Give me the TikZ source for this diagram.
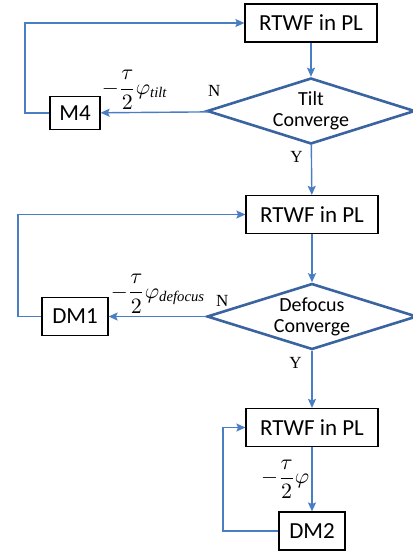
\documentclass[tikz,border=0pt]{standalone}
\usepackage{amsmath}
\usepackage{fontspec}
\setmainfont{Carlito}
\newfontfamily\yesno{Liberation Serif}
\usetikzlibrary{shapes.geometric, arrows.meta, positioning}

\definecolor{linkblue}{RGB}{74,126,196}
\definecolor{decblue}{RGB}{58,100,160}

\newcommand{\subtxt}[1]{\textit{\yesno #1}}

\tikzset{
    block/.style = {
        rectangle, 
        minimum width=66pt, 
        minimum height=19pt, 
        inner sep=0pt,
        align=center, 
        draw=black, 
        line width=0.6pt,
        fill=white,
        font=\fontsize{11.5}{13}\selectfont
    },
    smallblock/.style = {
        block,
        minimum width=33pt
    },
    decision/.style = {
        diamond, 
        aspect=3.15,
        minimum width=104pt, 
        minimum height=33pt, 
        inner sep=0pt,
        align=center, 
        draw=decblue, 
        line width=1.3pt,
        font=\fontsize{10}{10.5}\selectfont
    },
    answer/.style = {
        font=\yesno\fontsize{8.5}{10}\selectfont,
        inner sep=1pt
    },
    gain/.style = {
        font=\fontsize{10.5}{12}\selectfont,
        inner sep=0pt
    },
    arrow/.style = {
        line width=0.7pt, 
        draw=linkblue,
        -{Stealth[length=4.5pt, width=4pt, inset=0.8pt, color=linkblue]}
    }
}

\begin{document}
\begin{tikzpicture}[x=0.5pt, y=-0.5pt]

\useasboundingbox (0,0) rectangle (413,554);

% first loop: tilt
\node (rtwf1) [block] at (311,23) {RTWF in PL};
\node (tilt) [decision] at (311,111) {Tilt\\Converge};
\node (m4) [smallblock, minimum width=25pt, minimum height=16.5pt] at (75,113) {M4};

% second loop: defocus
\node (rtwf2) [block] at (312,214.5) {RTWF in PL};
\node (defocus) [decision, minimum width=105pt] at (312,316.5) {Defocus\\Converge};
\node (dm1) [smallblock] at (75,316.5) {DM1};

% third loop
\node (rtwf3) [block] at (312,427.5) {RTWF in PL};
\node (dm2) [smallblock] at (312,531) {DM2};

% corner points of the feedback lines
\coordinate (c1) at (25,23);
\coordinate (c2) at (18,214.5);
\coordinate (c3) at (223,427.5);

% labels
\node (n1) [answer, above right=6pt and 0pt of tilt.west] {N};
\node (y1) [answer, below left=2pt and 3pt of tilt.south] {Y};
\node (n2) [answer, above right=4pt and 4pt of defocus.west] {N};
\node (y2) [answer, below left=2pt and 4pt of defocus.south] {Y};
\node (g1) [gain, above right=1.5pt and 0.5pt of m4.east] {$\displaystyle -\frac{\tau}{2}\varphi_{\subtxt{tilt}}$};
\node (g2) [gain, above right=1.5pt and 1pt of dm1.east] {$\displaystyle -\frac{\tau}{2}\varphi_{\subtxt{defocus}}$};

% Arrows
\draw [arrow] (rtwf1) -- (tilt);
\draw [arrow] (tilt) -- (m4);
\draw [arrow] (m4.west) -- (m4.west -| c1) -- (c1) -- (rtwf1.west);
\draw [arrow] (tilt) -- (rtwf2);
\draw [arrow] (rtwf2) -- (defocus);
\draw [arrow] (defocus) -- (dm1);
\draw [arrow] (dm1.west) -- (dm1.west -| c2) -- (c2) -- (rtwf2.west);
\draw [arrow] (defocus) -- (rtwf3);
\draw [arrow] (rtwf3) -- node[gain, left=1pt] {$\displaystyle -\frac{\tau}{2}\varphi$} (dm2);
\draw [arrow] (dm2.west) -- (dm2.west -| c3) -- (c3) -- (rtwf3.west);

\end{tikzpicture}
\end{document}
